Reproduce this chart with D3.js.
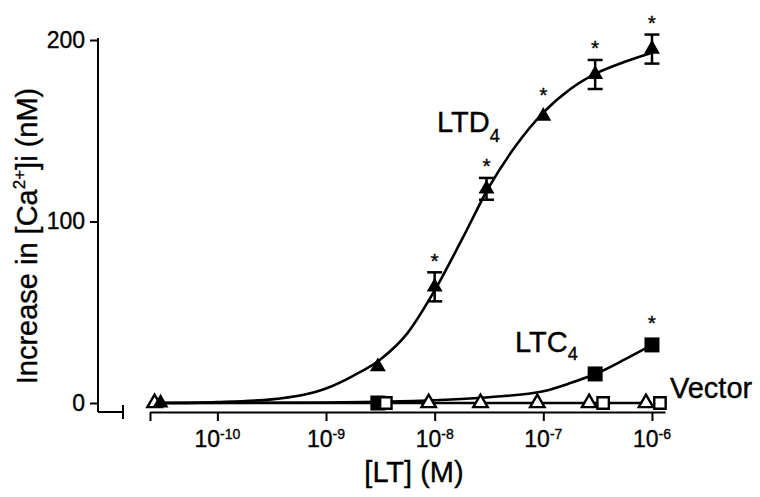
<!DOCTYPE html>
<html>
<head>
<meta charset="utf-8">
<script src="https://cdn.jsdelivr.net/npm/d3@7"></script>
<style>
  body { margin: 0; background: #fff; }
  svg { display: block; font-family: "Liberation Sans", Arial, Helvetica, sans-serif; }
  svg text { fill: #000; stroke: #000; stroke-width: 0.35px; }
  .axis path, .axis line { stroke: #000; stroke-width: 2px; }
  .axis text { font-size: 23px; }
</style>
</head>
<body>
<div id="chart"></div>
<script>
// concentrations (M) and responses (nM)
var conc = [3e-11, 3e-9, 1e-8, 3e-8, 1e-7, 3e-7, 1e-6];
var ltd4Mean = [0, 20, 64, 118, 158, 181, 195];
var ltd4Err = [0, 0, 8, 6, 0, 8, 8];
var ltd4Sig = [1e-8, 3e-8, 1e-7, 3e-7, 1e-6];

var ltc4Conc = [3e-9, 3e-7, 1e-6];
var ltc4Mean = [0, 16, 32];
var ltc4Sig = [1e-6];

var vecTriConc = [3e-11, 1e-8, 3e-8, 1e-7, 3e-7, 1e-6];
var vecTriVal = [0, 0, 0, 0, 0, 0];
var vecSqConc = [3e-9, 3e-7, 1e-6];
var vecSqVal = [0, 0, 0];

// fitted curves (log10 M -> nM)
var ltd4FitLog = [-10.52, -10, -9.5, -9, -8.75, -8.5, -8.25, -8, -7.75, -7.5, -7.25, -7, -6.75, -6.5, -6.25, -6];
var ltd4FitVal = [0, 0.5, 2, 8, 15, 24, 38.5, 62, 90, 119, 142, 160, 173, 182, 188, 193];
var ltc4FitLog = [-10.52, -9, -8.5, -8, -7.5, -7, -6.75, -6.5, -6.25, -6];
var ltc4FitVal = [0, 0.3, 0.7, 1.5, 3.2, 6.5, 11, 16.5, 24, 32];
var vecLineLog = [-10.52, -6];
var vecLineVal = [0, 0];

var yTicks = [0, 100, 200];
var xTicks = [1e-10, 1e-9, 1e-8, 1e-7, 1e-6];
var xTickExp = ["-10", "-9", "-8", "-7", "-6"];

var W = 760, H = 497;
var svg = d3.select("#chart").append("svg")
    .attr("width", W).attr("height", H);

var x = d3.scaleLog().domain([Math.pow(10, -10.62), Math.pow(10, -5.88)]).range([150, 665]);
var y = d3.scaleLinear().domain([0, 200]).range([403, 40]);
var axisY = y(0) + 9;
var yAxisX = 98;

// y axis
var gY = svg.append("g").attr("class", "axis")
    .attr("transform", "translate(" + yAxisX + ",0)")
    .call(d3.axisLeft(y).tickValues(yTicks).tickSize(8).tickPadding(5).tickSizeOuter(0));
gY.select(".domain").remove();
gY.append("line").attr("x1", 0).attr("x2", 0)
    .attr("y1", y(200) - 2).attr("y2", axisY);
// short origin segment with break bar
gY.append("line").attr("x1", 0).attr("x2", 25).attr("y1", axisY).attr("y2", axisY);
gY.append("line").attr("x1", 25).attr("x2", 25).attr("y1", axisY - 7).attr("y2", axisY + 7);

// x axis
var gX = svg.append("g").attr("class", "axis")
    .attr("transform", "translate(0," + axisY + ")")
    .call(d3.axisBottom(x).tickValues([x.domain()[0]].concat(xTicks))
        .tickSize(9).tickSizeOuter(0).tickFormat(""));

var lbl = svg.append("g").attr("font-size", 23);
xTicks.forEach(function (t, i) {
    var tx = lbl.append("text").attr("x", x(t)).attr("y", axisY + 35)
        .attr("text-anchor", "middle");
    tx.append("tspan").text("10");
    tx.append("tspan").attr("font-size", 14).attr("dy", -8).text(xTickExp[i]);
});

// axis titles
var yt = svg.append("text").attr("font-size", 29).attr("text-anchor", "middle")
    .attr("transform", "translate(37,236) rotate(-90)");
yt.append("tspan").text("Increase in [Ca");
yt.append("tspan").attr("font-size", 17).attr("dy", -12).text("2+");
yt.append("tspan").attr("dy", 12).text("]i (nM)");

svg.append("text").attr("font-size", 29).attr("text-anchor", "middle")
    .attr("x", 414).attr("y", 482).text("[LT] (M)");

// curves
var line = d3.line()
    .x(function (d) { return x(Math.pow(10, d[0])); })
    .y(function (d) { return y(d[1]); })
    .curve(d3.curveMonotoneX);
function drawCurve(lx, ly) {
    svg.append("path").datum(d3.zip(lx, ly))
        .attr("d", line).attr("fill", "none")
        .attr("stroke", "#000").attr("stroke-width", 2.6);
}
drawCurve(vecLineLog, vecLineVal);
drawCurve(ltc4FitLog, ltc4FitVal);
drawCurve(ltd4FitLog, ltd4FitVal);

// markers
var tri = d3.symbol().type(d3.symbolTriangle);
var sq = d3.symbol().type(d3.symbolSquare);

svg.append("g").selectAll("path").data(d3.zip(vecTriConc, vecTriVal)).join("path")
    .attr("d", tri.size(90)())
    .attr("transform", function (d) { return "translate(" + (x(d[0]) - 6) + "," + y(d[1]) + ")"; })
    .attr("fill", "#fff").attr("stroke", "#000").attr("stroke-width", 2.4);

svg.append("g").selectAll("path").data(d3.zip(ltc4Conc, ltc4Mean)).join("path")
    .attr("d", sq.size(225)())
    .attr("transform", function (d) { return "translate(" + x(d[0]) + "," + y(d[1]) + ")"; })
    .attr("fill", "#000");

svg.append("g").selectAll("path").data(d3.zip(vecSqConc, vecSqVal)).join("path")
    .attr("d", sq.size(130)())
    .attr("transform", function (d) { return "translate(" + (x(d[0]) + 8) + "," + y(d[1]) + ")"; })
    .attr("fill", "#fff").attr("stroke", "#000").attr("stroke-width", 2.4);

var ltd4 = d3.zip(conc, ltd4Mean, ltd4Err);
svg.append("g").selectAll("path").data(ltd4).join("path")
    .attr("d", tri.size(110)())
    .attr("transform", function (d) { return "translate(" + x(d[0]) + "," + y(d[1]) + ")"; })
    .attr("fill", "#000");

// error bars
var eb = svg.append("g").attr("stroke", "#000").attr("stroke-width", 2.5);
ltd4.filter(function (d) { return d[2] > 0; }).forEach(function (d) {
    var cx = x(d[0]);
    eb.append("line").attr("x1", cx).attr("x2", cx).attr("y1", y(d[1] - d[2])).attr("y2", y(d[1] + d[2]));
    [d[1] - d[2], d[1] + d[2]].forEach(function (v) {
        eb.append("line").attr("x1", cx - 7.5).attr("x2", cx + 7.5).attr("y1", y(v)).attr("y2", y(v));
    });
});

// significance stars
function star(c, m, e) {
    var cy = Math.min(y(m + e), y(m) - 10) - 16;
    svg.append("text").attr("x", x(c)).attr("y", cy + 11.5)
        .attr("text-anchor", "middle").attr("font-size", 21).text("*");
}
ltd4Sig.forEach(function (c) {
    var i = conc.indexOf(c);
    star(c, ltd4Mean[i], ltd4Err[i]);
});
ltc4Sig.forEach(function (c) {
    star(c, ltc4Mean[ltc4Conc.indexOf(c)], 0);
});

// series labels
function seriesLabel(px, py, main, sub, subDy) {
    var t = svg.append("text").attr("x", px).attr("y", py).attr("font-size", 29);
    t.append("tspan").text(main);
    if (sub) t.append("tspan").attr("font-size", 18).attr("dy", subDy).text(sub);
}
seriesLabel(437, 132, "LTD", "4", 10);
seriesLabel(515, 352, "LTC", "4", 8);
seriesLabel(670, 398, "Vector");
</script>
</body>
</html>
